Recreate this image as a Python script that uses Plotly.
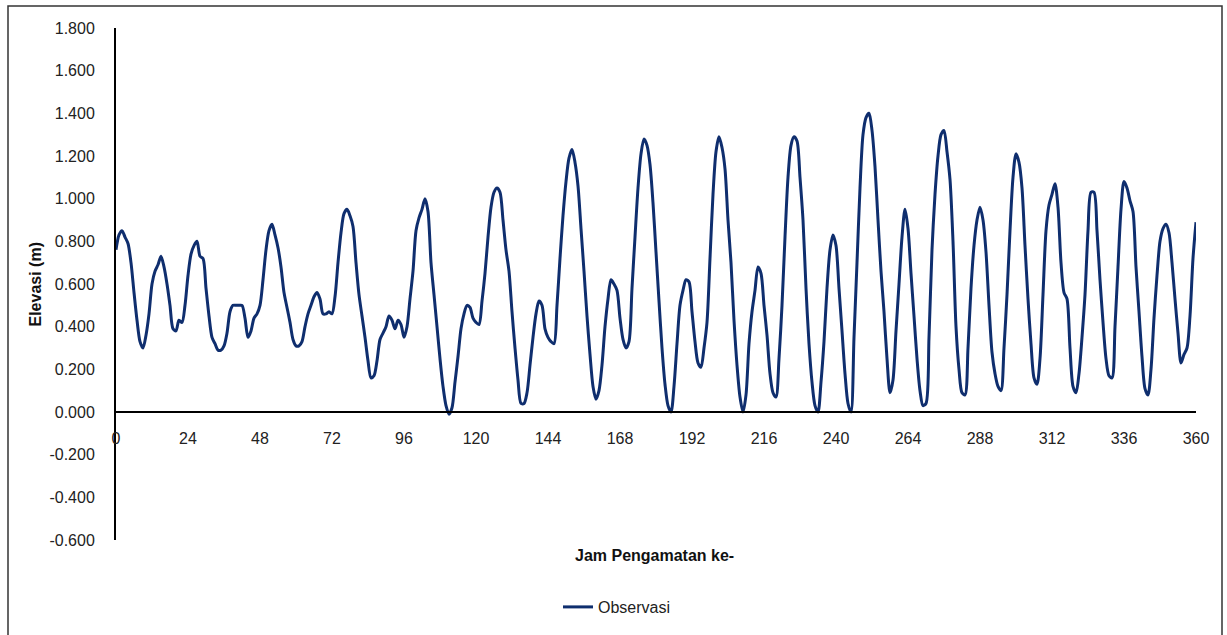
import plotly.graph_objects as go

elev_000_059 = [0.76, 0.83, 0.85, 0.82, 0.79, 0.70, 0.56, 0.43, 0.33, 0.30,
                0.36, 0.46, 0.60, 0.66, 0.69, 0.73, 0.68, 0.60, 0.50, 0.39,
                0.38, 0.43, 0.42, 0.50, 0.64, 0.74, 0.78, 0.80, 0.73, 0.72,
                0.58, 0.45, 0.35, 0.32, 0.29, 0.29, 0.31, 0.37, 0.47, 0.50,
                0.50, 0.50, 0.50, 0.44, 0.35, 0.38, 0.44, 0.46, 0.50, 0.62,
                0.76, 0.85, 0.88, 0.83, 0.77, 0.68, 0.56, 0.49, 0.42, 0.34]
elev_060_119 = [0.31, 0.31, 0.33, 0.40, 0.46, 0.50, 0.54, 0.56, 0.53, 0.46,
                0.46, 0.47, 0.46, 0.54, 0.70, 0.84, 0.93, 0.95, 0.92, 0.87,
                0.70, 0.55, 0.45, 0.35, 0.24, 0.16, 0.17, 0.24, 0.34, 0.37,
                0.40, 0.45, 0.43, 0.39, 0.43, 0.41, 0.35, 0.40, 0.53, 0.66,
                0.85, 0.91, 0.95, 1.00, 0.94, 0.70, 0.55, 0.40, 0.25, 0.12,
                0.03, -0.01, 0.02, 0.14, 0.26, 0.39, 0.46, 0.50, 0.49, 0.44]
elev_120_179 = [0.42, 0.41, 0.52, 0.65, 0.82, 0.96, 1.03, 1.05, 1.03, 0.90,
                0.76, 0.66, 0.47, 0.30, 0.15, 0.04, 0.04, 0.09, 0.22, 0.35,
                0.46, 0.52, 0.50, 0.39, 0.35, 0.33, 0.32, 0.50, 0.72, 0.92,
                1.08, 1.19, 1.23, 1.17, 1.06, 0.86, 0.66, 0.45, 0.27, 0.12,
                0.06, 0.10, 0.22, 0.40, 0.53, 0.62, 0.60, 0.57, 0.44, 0.34,
                0.30, 0.33, 0.58, 0.82, 1.05, 1.21, 1.28, 1.25, 1.16, 0.98]
elev_180_239 = [0.75, 0.52, 0.30, 0.13, 0.03, 0.00, 0.12, 0.32, 0.50, 0.57,
                0.62, 0.61, 0.47, 0.33, 0.23, 0.21, 0.30, 0.42, 0.72, 1.02,
                1.22, 1.29, 1.24, 1.14, 0.90, 0.70, 0.43, 0.22, 0.07, 0.00,
                0.08, 0.32, 0.47, 0.57, 0.68, 0.65, 0.50, 0.36, 0.18, 0.09,
                0.07, 0.25, 0.50, 0.82, 1.10, 1.25, 1.29, 1.27, 1.10, 0.90,
                0.58, 0.32, 0.14, 0.03, 0.00, 0.14, 0.33, 0.58, 0.76, 0.83]
elev_240_299 = [0.78, 0.58, 0.38, 0.18, 0.04, 0.00, 0.35, 0.70, 1.05, 1.30,
                1.38, 1.40, 1.32, 1.15, 0.90, 0.66, 0.47, 0.25, 0.09, 0.15,
                0.38, 0.60, 0.82, 0.95, 0.86, 0.65, 0.45, 0.25, 0.10, 0.03,
                0.04, 0.35, 0.76, 1.02, 1.20, 1.30, 1.32, 1.22, 1.09, 0.80,
                0.40, 0.20, 0.09, 0.08, 0.30, 0.58, 0.78, 0.90, 0.96, 0.90,
                0.75, 0.50, 0.28, 0.18, 0.12, 0.10, 0.30, 0.55, 0.85, 1.10]
elev_300_360 = [1.21, 1.17, 1.05, 0.78, 0.53, 0.32, 0.16, 0.13, 0.25, 0.55,
                0.85, 0.97, 1.02, 1.07, 0.96, 0.70, 0.56, 0.53, 0.30, 0.12,
                0.09, 0.18, 0.35, 0.55, 0.85, 1.03, 1.03, 0.85, 0.62, 0.42,
                0.25, 0.17, 0.16, 0.40, 0.68, 0.95, 1.08, 1.05, 0.99, 0.94,
                0.68, 0.47, 0.26, 0.11, 0.08, 0.20, 0.44, 0.64, 0.80, 0.86,
                0.88, 0.84, 0.70, 0.53, 0.37, 0.23, 0.27, 0.30, 0.45, 0.72,
                0.89]

elevasi = elev_000_059 + elev_060_119 + elev_120_179 + elev_180_239 + elev_240_299 + elev_300_360
jam = list(range(len(elevasi)))

x_ticks = [0, 24, 48, 72, 96, 120, 144, 168, 192, 216, 240, 264, 288, 312, 336, 360]
y_ticks = [-0.6, -0.4, -0.2, 0.0, 0.2, 0.4, 0.6, 0.8, 1.0, 1.2, 1.4, 1.6, 1.8]
y_ticktext = [f"{v:.3f}" for v in y_ticks]

series_name = "Observasi"
x_title = "Jam Pengamatan ke-"
y_title = "Elevasi (m)"

LINE = "#0f2e6e"
FONT = "Liberation Sans, Arial, sans-serif"

W, H = 1227, 635
PL, PR, PT, PB = 116, 1196, 28, 541   # plot area in page pixels
PW, PH = PR - PL, PB - PT

fig = go.Figure()
fig.add_trace(go.Scatter(
    x=jam, y=elevasi, mode="lines", name=series_name,
    line=dict(color=LINE, width=3, shape="spline", smoothing=0.8),
))

fig.update_layout(
    width=W, height=H,
    margin=dict(l=PL, r=W - PR, t=PT, b=H - PB),
    paper_bgcolor="white", plot_bgcolor="white",
    font=dict(family=FONT, size=16, color="#222222"),
    showlegend=True,
    legend=dict(orientation="h", x=(558 - PL) / PW, xanchor="left",
                y=(PB - 607) / PH, yanchor="middle",
                font=dict(size=16, color="#222222"), itemwidth=30),
    xaxis=dict(range=[0, 360], tickvals=x_ticks, showgrid=False, zeroline=False,
               showline=True, linecolor="black", linewidth=2,
               anchor="free", position=0.25, ticks="",
               ticklabelstandoff=12, tickfont=dict(size=16)),
    yaxis=dict(range=[-0.6, 1.8], tickvals=y_ticks, ticktext=y_ticktext,
               showgrid=False, zeroline=False, showline=True,
               linecolor="black", linewidth=2, ticks="",
               ticklabelstandoff=16, tickfont=dict(size=16)),
    annotations=[
        dict(text=f"<b>{x_title}</b>", xref="paper", yref="paper",
             x=(654 - PL) / PW, y=(PB - 557) / PH, xanchor="center", yanchor="middle",
             showarrow=False, font=dict(size=16, color="#111111")),
        dict(text=f"<b>{y_title}</b>", xref="paper", yref="paper",
             x=(35 - PL) / PW, y=(PB - 285) / PH, xanchor="center", yanchor="middle",
             textangle=-90, showarrow=False, font=dict(size=16, color="#111111")),
    ],
    shapes=[
        dict(type="rect", xref="paper", yref="paper",
             x0=(8 - PL) / PW, x1=(1222 - PL) / PW,
             y0=(PB - 645) / PH, y1=(PB - 6) / PH,
             line=dict(color="#333333", width=1.5), fillcolor="rgba(0,0,0,0)",
             layer="below"),
    ],
)

# remove the default 8px page margin so the figure fills the window exactly
fig.write_html("out.html",
               config={"displayModeBar": False},
               post_script="document.body.style.margin='0px';document.body.style.overflow='hidden';")
